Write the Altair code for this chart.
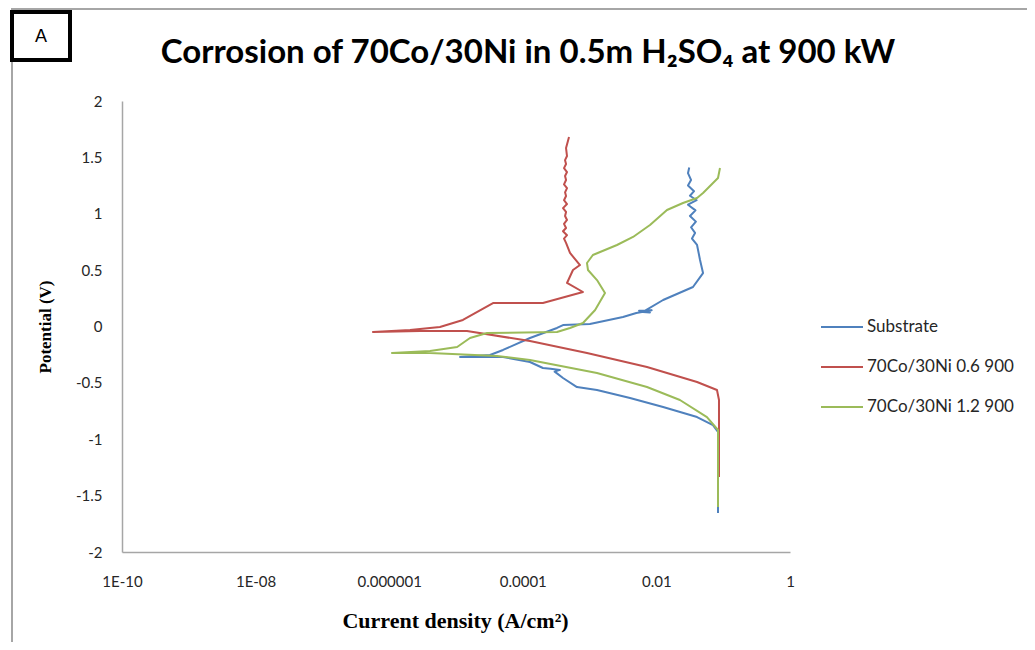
import altair as alt
import pandas as pd

# ---------------- data ----------------
series_names = ["Substrate", "70Co/30Ni 0.6 900", "70Co/30Ni 1.2 900"]
series_colors = ["#4F81BD", "#C0504D", "#9BBB59"]

# Substrate (blue)
sub_current = [0.0836, 0.0836, 0.0703, 0.0406, 0.0126, 0.00403, 0.00129, 6.47e-4,
               4.0e-4, 3.0e-4, 3.6e-4, 2.6e-4, 2.0e-4, 1.28e-4, 5.06e-5, 1.15e-5,
               3.23e-5, 5.06e-5, 1.28e-4, 3.25e-4, 4.0e-4, 1.01e-3, 3.16e-3,
               5.0e-3, 8.5e-3, 5.5e-3, 8.0e-3, 6.3e-3, 0.0126, 0.0353, 0.0499,
               0.0450, 0.0406, 0.0341, 0.0379, 0.0330, 0.0390, 0.0318, 0.0385,
               0.0297, 0.0400, 0.0318, 0.0366, 0.0297, 0.0330, 0.0297, 0.0310]
sub_potential = [-1.654, -0.936, -0.874, -0.803, -0.714, -0.634, -0.563, -0.537,
                 -0.457, -0.40, -0.385, -0.375, -0.368, -0.315, -0.271, -0.271,
                 -0.253, -0.208, -0.102, -0.013, 0.013, 0.022, 0.084,
                 0.12, 0.145, 0.14, 0.125, 0.129, 0.235, 0.350, 0.474,
                 0.590, 0.723, 0.78, 0.83, 0.88, 0.93, 0.98, 1.03,
                 1.08, 1.12, 1.16, 1.20, 1.25, 1.30, 1.36, 1.41]

# 70Co/30Ni 0.6 900 (red)
red_current = [0.0865, 0.0865, 0.0807, 0.0406, 0.00723, 9.14e-4, 1.28e-4, 1.46e-5,
               2.89e-6, 5.71e-7, 2.05e-6, 5.75e-6, 1.27e-5, 3.58e-5, 2.0e-4,
               7.96e-4, 4.59e-4, 5.64e-4, 7.18e-4, 5.09e-4, 4.44e-4,
               4.14e-4, 4.59e-4, 4.0e-4, 4.44e-4, 4.14e-4, 4.59e-4, 4.29e-4,
               4.44e-4, 4.0e-4, 4.59e-4, 4.14e-4, 4.44e-4, 4.29e-4, 4.59e-4,
               4.14e-4, 4.44e-4, 4.29e-4, 4.59e-4, 4.14e-4, 4.44e-4, 4.29e-4,
               4.59e-4, 4.44e-4, 4.92e-4]
red_potential = [-1.335, -0.652, -0.563, -0.492, -0.359, -0.235, -0.129, -0.040,
                 -0.040, -0.049, -0.031, -0.004, 0.058, 0.208, 0.208,
                 0.306, 0.386, 0.501, 0.545, 0.652, 0.741,
                 0.78, 0.81, 0.845, 0.874, 0.91, 0.945, 0.98,
                 1.016, 1.05, 1.086, 1.12, 1.157, 1.19, 1.228,
                 1.26, 1.299, 1.335, 1.370, 1.405, 1.441, 1.475,
                 1.512, 1.583, 1.681]

# 70Co/30Ni 1.2 900 (green)
grn_current = [0.0836, 0.0836, 0.0571, 0.0225, 0.00723, 0.00129, 1.28e-4, 4.11e-5,
               4.08e-6, 1.10e-6, 4.08e-6, 1.04e-5, 1.62e-5, 2.91e-5, 3.25e-4,
               5.09e-4, 7.96e-4, 1.21e-3, 1.70e-3, 1.29e-3, 9.46e-4, 9.14e-4,
               1.12e-3, 2.57e-3, 4.47e-3, 8.02e-3, 0.0144, 0.0250, 0.0406,
               0.0499, 0.0836, 0.0895]
grn_potential = [-1.60, -0.918, -0.803, -0.652, -0.537, -0.412, -0.297, -0.262,
                 -0.235, -0.235, -0.217, -0.182, -0.102, -0.058, -0.049,
                 -0.013, 0.031, 0.146, 0.297, 0.412, 0.501, 0.563,
                 0.634, 0.723, 0.794, 0.900, 1.033, 1.095, 1.140,
                 1.184, 1.317, 1.406]

x_tick_values = [1e-10, 1e-8, 1e-6, 1e-4, 1e-2, 1]
x_tick_labels = ["1E-10", "1E-08", "0.000001", "0.0001", "0.01", "1"]
y_tick_values = [-2, -1.5, -1, -0.5, 0, 0.5, 1, 1.5, 2]
y_tick_labels = ["-2", "-1.5", "-1", "-0.5", "0", "0.5", "1", "1.5", "2"]

title_text = "Corrosion of 70Co/30Ni in 0.5m H\u2082SO\u2084 at 900 kW"
x_title = "Current density (A/cm\u00b2)"
y_title = "Potential (V)"
panel_label = "A"

# ---------------- table ----------------
rows = []
for name, cur, pot in [(series_names[0], sub_current, sub_potential),
                       (series_names[1], red_current, red_potential),
                       (series_names[2], grn_current, grn_potential)]:
    for i, (c, p) in enumerate(zip(cur, pot)):
        rows.append({"series": name, "current": c, "potential": p, "idx": i})
df = pd.DataFrame(rows)


def label_expr(values, labels):
    expr = "''"
    for v, l in reversed(list(zip(values, labels))):
        expr = f"(abs(datum.value - {v}) <= {abs(v) * 1e-3 + 1e-12}) ? '{l}' : ({expr})"
    return expr


W, H = 668, 451

lines = alt.Chart(df).mark_line(strokeWidth=2, strokeJoin="round").encode(
    x=alt.X("current:Q",
            scale=alt.Scale(type="log", domain=[1e-10, 1], nice=False),
            axis=alt.Axis(values=x_tick_values,
                          labelExpr=label_expr(x_tick_values, x_tick_labels),
                          ticks=False, grid=False, labelFlush=False,
                          domainColor="#A6A6A6", domainWidth=1.5,
                          labelFont="Lato", labelFontSize=15, labelColor="#262626",
                          labelPadding=22,
                          title=x_title, titleFont="Liberation Serif",
                          titleFontSize=22, titleFontWeight="bold",
                          titleColor="#000000", titleX=333, titleY=68,
                          titleBaseline="middle", titleAlign="center")),
    y=alt.Y("potential:Q",
            scale=alt.Scale(domain=[-2, 2], nice=False),
            axis=alt.Axis(values=y_tick_values,
                          labelExpr=label_expr(y_tick_values, y_tick_labels),
                          ticks=False, grid=False,
                          domainColor="#A6A6A6", domainWidth=1.5,
                          labelFont="Lato", labelFontSize=15, labelColor="#262626",
                          labelPadding=20,
                          title=y_title, titleFont="Liberation Serif",
                          titleFontSize=17, titleFontWeight="bold",
                          titleColor="#000000", titleX=-77, titleY=225.5,
                          titleAngle=270, titleBaseline="middle", titleAlign="center")),
    color=alt.Color("series:N",
                    scale=alt.Scale(domain=series_names, range=series_colors),
                    sort=series_names,
                    legend=alt.Legend(orient="none", legendX=698, legendY=204,
                                      title=None, symbolType="stroke",
                                      symbolSize=1764, symbolStrokeWidth=2,
                                      labelFont="Lato", labelFontSize=17,
                                      labelColor="#262626", labelOffset=3,
                                      rowPadding=10, padding=0)),
    order=alt.Order("idx:Q"),
)

one = pd.DataFrame({"t": [title_text]})

frame = alt.Chart(one).mark_rect(fillOpacity=0, stroke="#A6A6A6", strokeWidth=2).encode(
    x=alt.value(-110), x2=alt.value(1000), y=alt.value(-92), y2=alt.value(700))

box = alt.Chart(one).mark_rect(fill="white", stroke="black", strokeWidth=4).encode(
    x=alt.value(-110), x2=alt.value(-52), y=alt.value(-89), y2=alt.value(-41))

box_text = alt.Chart(pd.DataFrame({"t": [panel_label]})).mark_text(
    font="Liberation Sans", fontSize=18, color="black", align="center",
    baseline="middle").encode(text="t:N", x=alt.value(-81), y=alt.value(-64))

title = alt.Chart(one).mark_text(
    font="Lato", fontSize=33, fontWeight="bold", color="black", align="center",
    baseline="alphabetic").encode(text="t:N", x=alt.value(406), y=alt.value(-38))

chart = alt.layer(frame, lines, box, box_text, title).properties(
    width=W, height=H,
    autosize=alt.AutoSizeParams(type="none"),
    padding={"left": 114, "top": 93, "right": 237, "bottom": 90},
).configure_view(stroke=None)

chart.save("out.html", embed_options={"renderer": "svg", "actions": False})
